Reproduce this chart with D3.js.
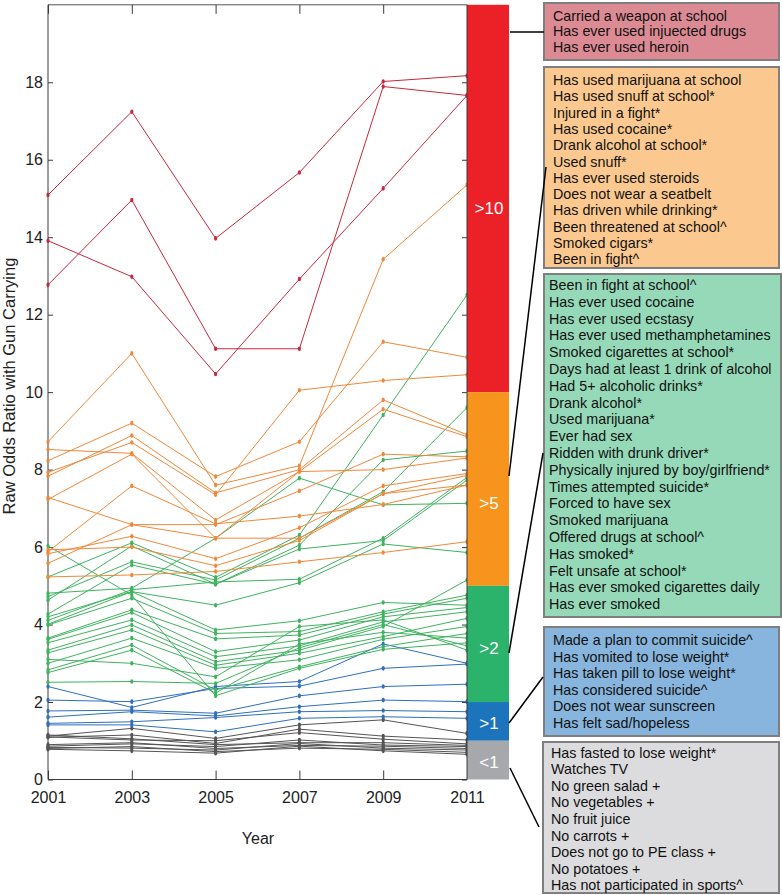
<!DOCTYPE html>
<html><head><meta charset="utf-8">
<script src="https://cdn.jsdelivr.net/npm/d3@7/dist/d3.min.js"></script>
<style>body{margin:0;background:#fff}svg{display:block;font-family:"Liberation Sans",Arial,sans-serif}</style>
</head><body><svg id="c" width="782" height="895"></svg>
<script>
// ---------------- DATA ----------------
const years = [2001, 2003, 2005, 2007, 2009, 2011];
const yTicks = [0, 2, 4, 6, 8, 10, 12, 14, 16, 18];

const redSeries = [
  [15.09, 17.24, 13.97, 15.67, 18.02, 18.17],
  [13.91, 12.98, 10.47, 12.92, 15.26, 17.66],
  [12.77, 14.96, 11.12, 11.12, 17.89, 17.66]
];
const orangeSeries = [
  [8.72, 11.0, 7.6, 8.1, 13.43, 15.35],
  [8.23, 9.2, 7.82, 8.72, 11.3, 10.9],
  [7.93, 8.7, 7.35, 10.05, 10.3, 10.45],
  [7.83, 8.88, 7.4, 8.0, 9.8, 8.9],
  [8.52, 8.42, 6.7, 7.95, 9.56, 8.85],
  [7.28, 6.58, 6.58, 7.45, 8.4, 8.33],
  [5.88, 7.58, 6.6, 6.8, 7.1, 7.6],
  [5.83, 6.28, 5.7, 6.5, 7.58, 7.9],
  [5.58, 6.58, 6.23, 6.23, 7.38, 7.6],
  [5.23, 5.28, 5.37, 5.62, 5.86, 6.14],
  [7.23, 8.4, 6.23, 7.95, 8.0, 8.3],
  [5.93, 6.0, 5.52, 6.17, 7.38, 7.85]
];
const greenSeries = [
  [4.81, 4.94, 6.23, 7.78, 7.09, 7.13],
  [5.23, 6.11, 5.22, 6.31, 9.41, 12.51],
  [4.72, 5.62, 5.15, 6.23, 7.43, 9.6],
  [4.63, 6.03, 5.04, 6.05, 8.25, 8.48],
  [4.27, 5.54, 5.04, 5.95, 6.17, 7.73],
  [4.2, 4.85, 4.5, 5.08, 6.08, 5.86],
  [4.11, 4.9, 5.1, 5.17, 6.23, 7.8],
  [6.03, 4.76, 2.16, 2.87, 3.36, 3.53],
  [4.01, 4.85, 3.86, 4.1, 4.57, 4.5],
  [3.99, 4.68, 3.77, 3.82, 4.33, 4.76],
  [3.65, 4.38, 3.63, 3.73, 4.27, 4.68],
  [3.62, 4.31, 3.3, 3.6, 4.2, 4.44],
  [3.53, 4.12, 3.17, 3.45, 4.07, 4.33],
  [3.34, 3.99, 3.04, 3.34, 3.95, 5.15],
  [3.27, 3.86, 2.95, 3.26, 3.69, 4.16],
  [3.0, 3.65, 2.87, 3.09, 3.62, 3.95],
  [2.83, 3.47, 2.31, 2.91, 3.43, 3.77],
  [2.76, 3.34, 2.23, 3.5, 3.8, 3.65],
  [2.51, 2.53, 2.48, 3.4, 4.0, 3.45],
  [3.1, 3.0, 2.65, 3.95, 4.12, 3.34]
];
const blueSeries = [
  [2.4, 1.86, 2.4, 2.53, 3.5, 3.0],
  [2.05, 2.01, 2.35, 2.41, 2.87, 2.98],
  [1.77, 1.79, 1.71, 2.16, 2.4, 2.46],
  [1.61, 1.75, 1.64, 1.88, 2.05, 2.01],
  [1.45, 1.49, 1.6, 1.75, 1.78, 1.75],
  [1.41, 1.41, 1.23, 1.58, 1.62, 1.58]
];
const greySeries = [
  [1.12, 1.32, 1.06, 1.41, 1.54, 1.19],
  [1.09, 1.15, 0.93, 1.3, 1.12, 1.02],
  [1.1, 1.02, 1.0, 1.21, 1.04, 0.92],
  [0.86, 0.92, 0.85, 1.02, 0.89, 0.85],
  [0.83, 0.81, 0.76, 0.93, 0.81, 0.76],
  [0.78, 0.74, 0.68, 0.86, 0.74, 0.65],
  [0.8, 0.85, 0.72, 0.81, 0.78, 0.7],
  [1.15, 1.05, 0.9, 0.95, 0.95, 0.88],
  [0.9, 0.95, 0.8, 0.88, 0.86, 0.8]
];

const bandLabels = [">10", ">5", ">2", ">1", "<1"];
const bandLimits = [20, 10, 5, 2, 1, 0];

const legendRed = ["Carried a weapon at school", "Has ever used injuected drugs", "Has ever used heroin"];
const legendOrange = ["Has used marijuana at school", "Has used snuff at school*", "Injured in a fight*",
  "Has used cocaine*", "Drank alcohol at school*", "Used snuff*", "Has ever used steroids",
  "Does not wear a seatbelt", "Has driven while drinking*", "Been threatened at school^",
  "Smoked cigars*", "Been in fight^"];
const legendGreen = ["Been in fight at school^", "Has ever used cocaine", "Has ever used ecstasy",
  "Has ever used methamphetamines", "Smoked cigarettes at school*", "Days had at least 1 drink of alcohol",
  "Had 5+ alcoholic drinks*", "Drank alcohol*", "Used marijuana*", "Ever had sex",
  "Ridden with drunk driver*", "Physically injured by boy/girlfriend*", "Times attempted suicide*",
  "Forced to have sex", "Smoked marijuana", "Offered drugs at school^", "Has smoked*",
  "Felt unsafe at school*", "Has ever smoked cigarettes daily", "Has ever smoked"];
const legendBlue = ["Made a plan to commit suicide^", "Has vomited to lose weight*",
  "Has taken pill to lose weight*", "Has considered suicide^", "Does not wear sunscreen",
  "Has felt sad/hopeless"];
const legendGrey = ["Has fasted to lose weight*", "Watches TV", "No green salad +", "No vegetables +",
  "No fruit juice", "No carrots +", "Does not go to PE class +", "No potatoes +",
  "Has not participated in sports^"];

// ---------------- DRAW ----------------
(function () {
const svg = d3.select("#c");
const pL = 48, pR = 467, pT = 4.8, pB = 779.5;
const x = d3.scaleLinear().domain([2001, 2011]).range([pL, pR]);
const y = d3.scaleLinear().domain([0, 20]).range([pB, pT]);

const lineColors = ["#c8283c", "#f0883a", "#3fb35f", "#2f6fbd", "#555555"];
const barColors = ["#ec2027", "#f7941e", "#2bb36b", "#1c74bc", "#a6a8ab"];
const boxFills = ["#dc8a94", "#fbc98f", "#95d9b8", "#87b5dd", "#dcdcde"];
const FONT = '"Liberation Sans",Arial,sans-serif';

const axisColor = "#3a3a3a";
const axG = svg.append("g");
axG.append("line").attr("x1", pL).attr("x2", pL).attr("y1", pT).attr("y2", pB).attr("stroke", axisColor);
axG.append("line").attr("x1", pL).attr("x2", pR).attr("y1", pT).attr("y2", pT).attr("stroke", "#555");
axG.append("line").attr("x1", pL).attr("x2", pR).attr("y1", pB).attr("y2", pB).attr("stroke", axisColor);

const gy = svg.append("g").attr("transform", `translate(${pL},0)`)
  .call(d3.axisLeft(y).tickValues(yTicks).tickSizeInner(-5).tickSizeOuter(0).tickPadding(5));
gy.select(".domain").remove();
gy.selectAll("line").attr("stroke", axisColor);
gy.selectAll("text").attr("font-size", 16).attr("fill", "#222").attr("font-family", FONT);
const gyr = svg.append("g").attr("transform", `translate(${pR},0)`)
  .call(d3.axisRight(y).tickValues(yTicks).tickSizeInner(-5).tickSizeOuter(0).tickFormat(""));
gyr.select(".domain").remove();
gyr.selectAll("line").attr("stroke", axisColor);

const gx = svg.append("g").attr("transform", `translate(0,${pB})`)
  .call(d3.axisBottom(x).tickValues(years).tickFormat(d3.format("d")).tickSizeInner(-9).tickSizeOuter(0).tickPadding(12));
gx.select(".domain").remove();
gx.selectAll("line").attr("stroke", axisColor);
gx.selectAll("text").attr("font-size", 16).attr("fill", "#222").attr("font-family", FONT);
const gxt = svg.append("g").attr("transform", `translate(0,${pT})`)
  .call(d3.axisTop(x).tickValues(years).tickSizeInner(-9).tickSizeOuter(0).tickFormat(""));
gxt.select(".domain").remove();
gxt.selectAll("line").attr("stroke", axisColor);

svg.append("text").attr("transform", `translate(15,386) rotate(-90)`).attr("text-anchor", "middle")
  .attr("font-size", 16.5).attr("fill", "#222").text("Raw Odds Ratio with Gun Carrying");
svg.append("text").attr("x", 258).attr("y", 844).attr("text-anchor", "middle")
  .attr("font-size", 16).attr("fill", "#222").text("Year");

const lineGen = d3.line().x((d, i) => x(years[i])).y(d => y(d));
const groups = [greySeries, blueSeries, greenSeries, orangeSeries, redSeries];
const groupColorIdx = [4, 3, 2, 1, 0];
groups.forEach((series, gi) => {
  const col = lineColors[groupColorIdx[gi]];
  const g = svg.append("g");
  series.forEach(s => {
    g.append("path").attr("d", lineGen(s)).attr("fill", "none").attr("stroke", col).attr("stroke-width", 1);
    g.selectAll(null).data(s).enter().append("ellipse")
      .attr("cx", (d, i) => x(years[i])).attr("cy", d => y(d))
      .attr("rx", 1.6).attr("ry", 2.3).attr("fill", col);
  });
});

const barX0 = pR, barX1 = 509;
const labelY = [14.75, 7.14, 3.39, 1.45, 0.45];
bandLabels.forEach((lab, i) => {
  svg.append("rect").attr("x", barX0).attr("y", y(bandLimits[i])).attr("width", barX1 - barX0)
    .attr("height", y(bandLimits[i + 1]) - y(bandLimits[i])).attr("fill", barColors[i]);
  svg.append("text").attr("x", (barX0 + barX1) / 2 + 1).attr("y", y(labelY[i])).attr("dy", "0.35em")
    .attr("text-anchor", "middle").attr("font-size", 17).attr("fill", "#fff").text(lab);
});
svg.append("line").attr("x1", pR).attr("x2", pR).attr("y1", pT).attr("y2", pB).attr("stroke", axisColor);

const boxes = [
  {items: legendRed, x: 544, y: 3, w: 235, h: 57, tx: 553, ty: 15.5, sp: 15.5},
  {items: legendOrange, x: 544, y: 67, w: 235, h: 201, tx: 553, ty: 80, sp: 16.3},
  {items: legendGreen, x: 544, y: 274, w: 237, h: 343, tx: 549, ty: 285, sp: 16.8},
  {items: legendBlue, x: 544, y: 627, w: 235, h: 109, tx: 553, ty: 640, sp: 16.6},
  {items: legendGrey, x: 543, y: 742, w: 236, h: 151, tx: 551, ty: 752.5, sp: 16.6}
];
boxes.forEach((b, i) => {
  svg.append("rect").attr("x", b.x).attr("y", b.y).attr("width", b.w).attr("height", b.h)
    .attr("fill", boxFills[i]).attr("stroke", "#7f7f7f").attr("stroke-width", 2);
  b.items.forEach((t, j) => {
    svg.append("text").attr("x", b.tx).attr("y", b.ty + j * b.sp).attr("dy", "0.35em")
      .attr("font-size", 14.3).attr("fill", "#111").text(t);
  });
});

const conns = [[510, 32, 544, 32], [546, 167, 509, 476], [543, 453, 509, 653], [543, 677, 509, 723], [510, 768, 539, 827]];
conns.forEach(c => svg.append("line").attr("x1", c[0]).attr("y1", c[1]).attr("x2", c[2]).attr("y2", c[3])
  .attr("stroke", "#000").attr("stroke-width", 1.5));
})();
</script></body></html>
